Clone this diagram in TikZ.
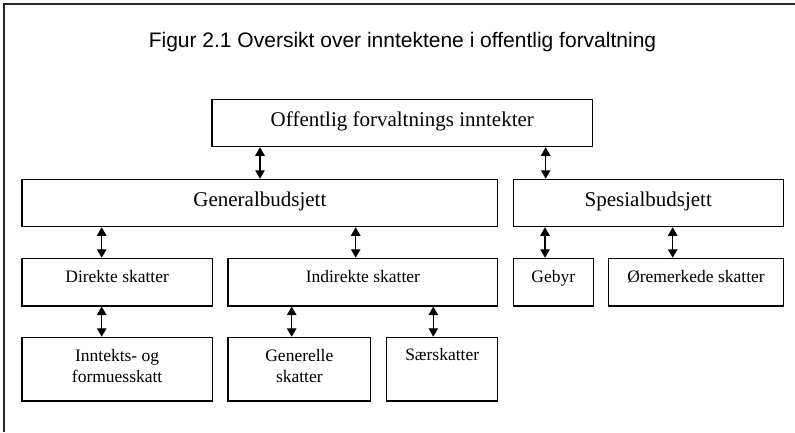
\documentclass[tikz,border=0pt]{standalone}
\usepackage{fontspec}
\setmainfont{Liberation Serif}
\newfontfamily\titlefont{Liberation Sans}
\usetikzlibrary{arrows.meta}
\begin{document}
\begin{tikzpicture}[x=1pt,y=-1pt,
  box/.style={draw=black,line width=1.1pt,inner sep=0pt,minimum width=#1},
  rowA/.style={minimum height=47.4pt},
  rowB/.style={minimum height=47.7pt},
  rowC/.style={minimum height=63.7pt},
  big/.style={anchor=base,inner sep=0pt,font=\fontsize{21}{25}\selectfont},
  small/.style={anchor=base,inner sep=0pt,font=\fontsize{17.5}{21}\selectfont},
  link/.style={{Triangle[width=9.5pt,length=8.5pt]}-{Triangle[width=9.5pt,length=8.5pt]},line width=1.1pt},
  frame/.style={line width=1.4pt,draw=black!85}]
\useasboundingbox (0,0) rectangle (795,432);
\draw[frame] (4,432) -- (4,4) -- (795,4);
\node[anchor=base,inner sep=0pt,font=\titlefont\fontsize{21}{25}\selectfont] (title) at (402.5,47.7) {Figur 2.1 Oversikt over inntektene i offentlig forvaltning};
% boxes
\node[box=380.7pt,rowA] (top) at (402.35,123) {};
\node[box=475.7pt,rowA] (gen) at (259.85,203) {};
\node[box=270pt,rowA] (spe) at (648.3,203) {};
\node[box=190.3pt,rowB] (dir) at (117.15,282.15) {};
\node[box=269.7pt,rowB] (ind) at (362.85,282.15) {};
\node[box=80pt,rowB] (geb) at (553.3,282.15) {};
\node[box=174.6pt,rowB] (ore) at (696,282.15) {};
\node[box=190.3pt,rowC] (inn) at (117.15,369.15) {};
\node[box=142.7pt,rowC] (gnr) at (299.35,369.15) {};
\node[box=111pt,rowC] (sae) at (442.2,369.15) {};
% texts
\node[big] (ttop) at (402.35,126.7) {Offentlig forvaltnings inntekter};
\node[big] (tgen) at (259.85,206) {Generalbudsjett};
\node[big] (tspe) at (648.3,206) {Spesialbudsjett};
\node[small] (tdir) at (117.15,282.3) {Direkte skatter};
\node[small] (tind) at (362.85,282.3) {Indirekte skatter};
\node[small] (tgeb) at (553.3,282.3) {Gebyr};
\node[small] (tore) at (696,282.3) {Øremerkede skatter};
\node[small] (tinn1) at (117.15,361.7) {Inntekts- og};
\node[small] (tinn2) at (117.15,382.3) {formuesskatt};
\node[small] (tgnr1) at (299.35,361.7) {Generelle};
\node[small] (tgnr2) at (299.35,382.3) {skatter};
\node[small] (tsae) at (442.2,360.5) {Særskatter};
% arrow x positions
\coordinate (x1) at (260,0);
\coordinate (x2) at (545.7,0);
\coordinate (x3) at (101.7,0);
\coordinate (x4) at (355.7,0);
\coordinate (x5) at (291.7,0);
\coordinate (x6) at (433.3,0);
\coordinate (x7) at (545,0);
\coordinate (x8) at (672.7,0);
% connectors
\draw[link] (top.south -| x1) -- (gen.north -| x1);
\draw[link] (top.south -| x2) -- (spe.north -| x2);
\draw[link] (gen.south -| x3) -- (dir.north -| x3);
\draw[link] (gen.south -| x4) -- (ind.north -| x4);
\draw[link] (dir.south -| x3) -- (inn.north -| x3);
\draw[link] (ind.south -| x5) -- (gnr.north -| x5);
\draw[link] (ind.south -| x6) -- (sae.north -| x6);
\draw[link] (spe.south -| x7) -- (geb.north -| x7);
\draw[link] (spe.south -| x8) -- (ore.north -| x8);
\end{tikzpicture}
\end{document}
